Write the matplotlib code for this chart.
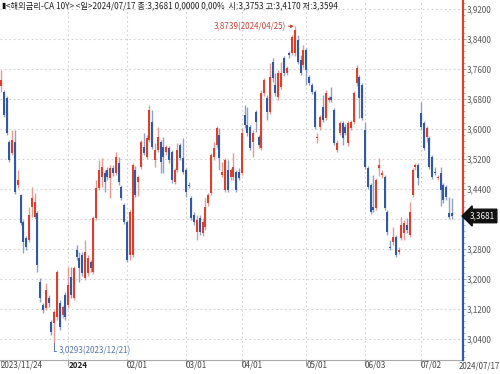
import matplotlib
matplotlib.use("Agg")
import matplotlib.pyplot as plt
import matplotlib.transforms as mtransforms
from matplotlib.ticker import MultipleLocator, FuncFormatter

NUM_FONT = ['Liberation Sans Narrow', 'Noto Sans CJK KR', 'DejaVu Sans']

# daily candles, 2023/11/24 .. 2024/07/17
opens = [3.715, 3.699, 3.683, 3.565, 3.536, 3.565, 3.451, 3.424, 3.352, 3.309,
         3.304, 3.392, 3.365, 3.376, 3.192, 3.131, 3.123, 3.149, 3.085, 3.083,
         3.099, 3.136, 3.104, 3.157, 3.131, 3.205, 3.149, 3.277, 3.256, 3.264,
         3.203, 3.216, 3.245, 3.219, 3.363, 3.443, 3.472, 3.483, 3.491, 3.469,
         3.496, 3.483, 3.509, 3.445, 3.397, 3.352, 3.264, 3.264, 3.491, 3.459,
         3.499, 3.552, 3.525, 3.571, 3.619, 3.517, 3.544, 3.565, 3.552, 3.539,
         3.549, 3.539, 3.459, 3.491, 3.557, 3.523, 3.491, 3.451, 3.416, 3.371,
         3.325, 3.363, 3.323, 3.339, 3.403, 3.429, 3.525, 3.557, 3.584, 3.477,
         3.437, 3.491, 3.472, 3.472, 3.485, 3.485, 3.483, 3.637, 3.611, 3.605,
         3.565, 3.645, 3.579, 3.549, 3.696, 3.683, 3.645, 3.779, 3.717, 3.685,
         3.712, 3.789, 3.749, 3.803, 3.803, 3.803, 3.837, 3.784, 3.771, 3.811,
         3.739, 3.717, 3.699, 3.576, 3.605, 3.659, 3.629, 3.677, 3.685, 3.651,
         3.544, 3.589, 3.616, 3.605, 3.563, 3.603, 3.619, 3.723, 3.739, 3.717,
         3.597, 3.496, 3.451, 3.392, 3.389, 3.496, 3.477, 3.472, 3.379, 3.285,
         3.299, 3.312, 3.272, 3.309, 3.323, 3.344, 3.317, 3.424, 3.499, 3.504,
         3.643, 3.616, 3.579, 3.576, 3.525, 3.485, 3.469, 3.483, 3.451, 3.445,
         3.376, 3.3753]
highs = [3.757, 3.704, 3.688, 3.571, 3.597, 3.597, 3.491, 3.427, 3.357, 3.315,
         3.392, 3.445, 3.429, 3.381, 3.203, 3.136, 3.189, 3.157, 3.091, 3.117,
         3.224, 3.144, 3.131, 3.165, 3.232, 3.232, 3.235, 3.291, 3.272, 3.272,
         3.304, 3.264, 3.251, 3.368, 3.464, 3.517, 3.523, 3.491, 3.499, 3.504,
         3.504, 3.539, 3.525, 3.451, 3.403, 3.357, 3.384, 3.509, 3.501, 3.477,
         3.571, 3.589, 3.584, 3.664, 3.651, 3.563, 3.605, 3.571, 3.579, 3.557,
         3.555, 3.544, 3.496, 3.563, 3.563, 3.576, 3.496, 3.459, 3.421, 3.379,
         3.371, 3.371, 3.363, 3.416, 3.429, 3.536, 3.565, 3.608, 3.603, 3.512,
         3.523, 3.517, 3.496, 3.536, 3.491, 3.496, 3.603, 3.664, 3.659, 3.611,
         3.597, 3.651, 3.584, 3.704, 3.736, 3.691, 3.776, 3.789, 3.749, 3.757,
         3.779, 3.795, 3.768, 3.808, 3.851, 3.8739, 3.851, 3.797, 3.824, 3.816,
         3.744, 3.723, 3.704, 3.589, 3.637, 3.691, 3.704, 3.688, 3.712, 3.656,
         3.571, 3.621, 3.621, 3.613, 3.621, 3.624, 3.701, 3.771, 3.744, 3.723,
         3.619, 3.501, 3.456, 3.477, 3.469, 3.523, 3.491, 3.477, 3.384, 3.304,
         3.339, 3.317, 3.285, 3.365, 3.357, 3.363, 3.405, 3.496, 3.509, 3.509,
         3.672, 3.621, 3.608, 3.581, 3.531, 3.499, 3.477, 3.499, 3.456, 3.451,
         3.419, 3.4170]
lows = [3.699, 3.632, 3.584, 3.512, 3.531, 3.427, 3.443, 3.344, 3.269, 3.277,
        3.299, 3.365, 3.360, 3.219, 3.139, 3.109, 3.117, 3.125, 3.051, 3.0293,
        3.091, 3.064, 3.096, 3.091, 3.123, 3.149, 3.144, 3.251, 3.192, 3.208,
        3.197, 3.208, 3.219, 3.213, 3.357, 3.437, 3.445, 3.432, 3.464, 3.416,
        3.475, 3.477, 3.451, 3.411, 3.347, 3.245, 3.251, 3.259, 3.419, 3.421,
        3.493, 3.531, 3.520, 3.565, 3.547, 3.499, 3.539, 3.483, 3.483, 3.531,
        3.509, 3.456, 3.453, 3.485, 3.517, 3.480, 3.419, 3.443, 3.357, 3.344,
        3.304, 3.317, 3.315, 3.331, 3.395, 3.424, 3.517, 3.549, 3.491, 3.472,
        3.432, 3.432, 3.464, 3.464, 3.432, 3.464, 3.477, 3.603, 3.581, 3.544,
        3.525, 3.592, 3.549, 3.544, 3.688, 3.624, 3.640, 3.725, 3.688, 3.677,
        3.707, 3.741, 3.744, 3.789, 3.797, 3.795, 3.773, 3.744, 3.763, 3.717,
        3.717, 3.693, 3.600, 3.563, 3.597, 3.619, 3.624, 3.672, 3.672, 3.557,
        3.539, 3.584, 3.557, 3.584, 3.555, 3.597, 3.613, 3.715, 3.629, 3.624,
        3.493, 3.440, 3.373, 3.379, 3.384, 3.475, 3.469, 3.384, 3.317, 3.277,
        3.291, 3.259, 3.267, 3.304, 3.304, 3.323, 3.312, 3.419, 3.491, 3.451,
        3.597, 3.544, 3.565, 3.493, 3.467, 3.477, 3.464, 3.395, 3.403, 3.411,
        3.360, 3.3594]
closes = [3.731, 3.637, 3.589, 3.517, 3.571, 3.432, 3.464, 3.349, 3.299, 3.285,
          3.371, 3.416, 3.405, 3.237, 3.149, 3.117, 3.171, 3.136, 3.059, 3.112,
          3.219, 3.072, 3.125, 3.099, 3.184, 3.157, 3.229, 3.259, 3.229, 3.216,
          3.272, 3.256, 3.229, 3.363, 3.443, 3.491, 3.499, 3.459, 3.472, 3.496,
          3.483, 3.525, 3.459, 3.416, 3.352, 3.251, 3.379, 3.504, 3.424, 3.472,
          3.565, 3.536, 3.576, 3.651, 3.552, 3.544, 3.579, 3.512, 3.525, 3.552,
          3.517, 3.464, 3.491, 3.544, 3.523, 3.485, 3.432, 3.448, 3.363, 3.352,
          3.357, 3.325, 3.352, 3.392, 3.424, 3.531, 3.549, 3.603, 3.523, 3.485,
          3.517, 3.437, 3.491, 3.499, 3.437, 3.469, 3.589, 3.611, 3.589, 3.549,
          3.589, 3.619, 3.557, 3.696, 3.731, 3.645, 3.739, 3.736, 3.696, 3.749,
          3.749, 3.749, 3.763, 3.797, 3.845, 3.864, 3.779, 3.749, 3.811, 3.757,
          3.723, 3.699, 3.605, 3.579, 3.632, 3.624, 3.696, 3.683, 3.677, 3.563,
          3.563, 3.616, 3.576, 3.589, 3.616, 3.619, 3.696, 3.763, 3.683, 3.629,
          3.499, 3.445, 3.379, 3.384, 3.464, 3.504, 3.483, 3.389, 3.325, 3.283,
          3.312, 3.264, 3.277, 3.344, 3.349, 3.331, 3.379, 3.491, 3.504, 3.469,
          3.605, 3.549, 3.603, 3.499, 3.472, 3.483, 3.472, 3.437, 3.411, 3.419,
          3.365, 3.3681]

date_pos = [0, 24, 45, 66, 86, 109, 130, 150]
date_labels = ["2023/11/24", "2024", "02/01", "03/01", "04/01", "05/01", "06/03", "07/02"]
last_date = "2024/07/17"
last_price = 3.3681
peak_idx, peak_val, peak_date = 105, 3.8739, "2024/04/25"
low_idx, low_val, low_date = 19, 3.0293, "2023/12/21"

RED = "#d8402f"
BLUE = "#34589f"
RED_WICK = "#e59a92"
BLUE_WICK = "#8fa2c6"
Y_LO, Y_HI = 2.984, 3.944


def fmt(v):
    return f"{v:.4f}".replace(".", ",")


fig = plt.figure(figsize=(5.0, 3.74), dpi=100)
ax = fig.add_axes([0.0, 14 / 374, 463 / 500, 360 / 374])

for i, (o, h, l, c) in enumerate(zip(opens, highs, lows, closes)):
    up = c >= o
    ax.vlines(i, l, h, color=RED_WICK if up else BLUE_WICK, lw=1.0, zorder=2)
    body = max(abs(c - o), 0.0028)
    ax.bar(i, body, bottom=min(o, c), width=0.72,
           color=RED if up else BLUE, lw=0, zorder=3)

ax.set_xlim(-0.36, 165.0)
ax.set_ylim(Y_LO, Y_HI)

# grid
ax.yaxis.set_major_locator(MultipleLocator(0.08))
ax.yaxis.set_minor_locator(MultipleLocator(0.016))
ax.grid(axis="y", which="major", color="#d0d0d0", ls=(0, (1.5, 2.5)), lw=0.8)
for p in date_pos[1:]:
    ax.axvline(p, color="#d0d0d0", ls=(0, (1.5, 2.5)), lw=0.8, zorder=0)


def ytick_fmt(v, _):
    # the last-price tag sits over this level
    if abs(v - last_price) < 0.03:
        return ""
    return fmt(v)


ax.yaxis.tick_right()
ax.yaxis.set_major_formatter(FuncFormatter(ytick_fmt))
ax.tick_params(axis="y", which="major", length=2.5, width=0.6, color="#999999",
               labelsize=5.8, labelcolor="#555555", pad=0.5)
ax.tick_params(axis="y", which="minor", length=1.5, width=0.5, color="#999999")
for lab in ax.get_yticklabels():
    lab.set_family(NUM_FONT)

ax.set_xticks(date_pos)
ax.set_xticklabels(date_labels)
ax.tick_params(axis="x", length=4, width=0.6, color="#888888",
               labelsize=5.8, labelcolor="#444444", pad=-3.6)
for k, lab in enumerate(ax.get_xticklabels()):
    lab.set_family(NUM_FONT)
    lab.set_horizontalalignment("left")
    if date_labels[k] == "2024":
        lab.set_fontweight("bold")
        lab.set_color("#222222")

for s in ("top", "right", "left"):
    ax.spines[s].set_visible(False)
ax.spines["bottom"].set_color("#aaaaaa")
ax.spines["bottom"].set_linewidth(0.8)

# price axis coloured above/below the last price
frac = (last_price - Y_LO) / (Y_HI - Y_LO)
ax.plot([1, 1], [frac, 1], transform=ax.transAxes, color=RED, lw=1.6,
        clip_on=False, zorder=5)
ax.plot([1, 1], [0, frac], transform=ax.transAxes, color=BLUE, lw=1.6,
        clip_on=False, zorder=5)

trans = mtransforms.blended_transform_factory(ax.transAxes, ax.transData)
ax.text(1.014, last_price, fmt(last_price), transform=trans, ha="left",
        va="center", fontsize=5.8, color="white", family=NUM_FONT,
        bbox=dict(boxstyle="larrow,pad=0.28", fc="#111111", ec="#111111"),
        zorder=6, clip_on=False)
fig.text(459 / 500, 1 - 362 / 374, last_date, ha="left", va="top",
         fontsize=5.7, color="#444444", family=NUM_FONT)

# high / low markers
ax.annotate(f"{fmt(peak_val)}({peak_date})", xy=(peak_idx - 0.4, peak_val),
            xytext=(-6, 0), textcoords="offset points", ha="right", va="center",
            fontsize=5.8, color="#c4473b", family=NUM_FONT,
            arrowprops=dict(arrowstyle="-|>,head_length=0.3,head_width=0.15",
                            color="#c4473b", lw=0.7, shrinkA=0, shrinkB=0))
ax.annotate(f"{fmt(low_val)}({low_date})", xy=(low_idx, low_val),
            xytext=(3, -5.5), textcoords="offset points", ha="left", va="center",
            fontsize=5.8, color="#5676a8", family=NUM_FONT,
            arrowprops=dict(arrowstyle="-", color="#5676a8", lw=0.7,
                            shrinkA=0, shrinkB=0,
                            connectionstyle="angle,angleA=0,angleB=90,rad=0"))

header = ("<해외금리-CA 10Y> <일>2024/07/17 종:3,3681 0,0000 0,00%  "
          "시:3,3753 고:3,4170 저:3,3594")
fig.text(0.002, 0.997, "▮", ha="left", va="top", fontsize=5.5, color="#111111",
         family="DejaVu Sans")
head = fig.text(0.011, 0.997, header, ha="left", va="top", fontsize=6.0,
                color="#222222", family=NUM_FONT)
# fit the header to the width it has in the original (ends near x=337 px)
fig.canvas.draw()
w = head.get_window_extent().width
head.set_fontsize(6.0 * 331 / w)

fig.savefig("out.png", dpi=100)
